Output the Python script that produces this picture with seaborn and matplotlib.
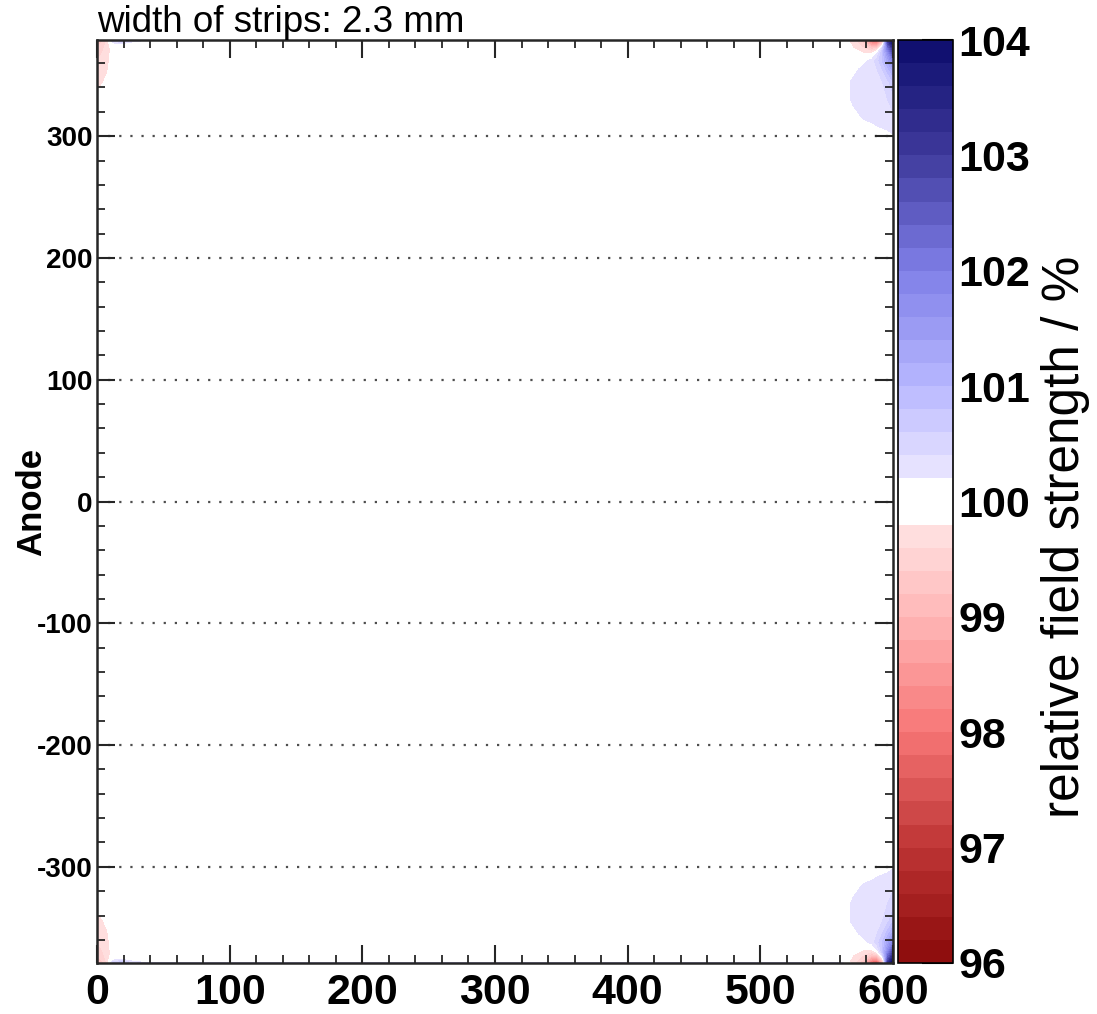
import numpy as np
import matplotlib
matplotlib.use("Agg")
import matplotlib.pyplot as plt
import seaborn as sns
from matplotlib.colors import LinearSegmentedColormap
from matplotlib.ticker import MultipleLocator

# grid (mm); only the upper half, the lower half is its mirror
x_mm = [0, 4, 8, 12, 18, 25, 35, 50, 540, 560, 570, 578, 584, 588, 592, 596, 600]
y_mm = [0, 280, 300, 315, 330, 345, 355, 362, 368, 372, 376, 378, 380]

# relative field strength in %, one row per y_mm value (left corner | right corner)
field_rows = [
    [100, 100, 100, 100, 100, 100, 100, 100,   100, 100, 100, 100, 100, 100, 100, 100, 100],
    [100, 100, 100, 100, 100, 100, 100, 100,   100, 100, 100, 100, 100, 100, 100, 100, 100],
    [100, 100, 100, 100, 100, 100, 100, 100,   100, 100, 100, 100, 100.05, 100.1, 100.12, 100.15, 100.18],
    [100, 100, 100, 100, 100, 100, 100, 100,   100, 100, 100.1, 100.22, 100.25, 100.28, 100.3, 100.3, 100.35],
    [99.85, 99.9, 100, 100, 100, 100, 100, 100,   100, 100, 100.25, 100.3, 100.3, 100.32, 100.35, 100.4, 100.5],
    [99.75, 99.78, 99.85, 100, 100, 100, 100, 100,   100, 100, 100.25, 100.3, 100.3, 100.35, 100.4, 100.55, 100.8],
    [99.7, 99.72, 99.78, 99.95, 100, 100, 100, 100,   100, 100, 100.1, 100.3, 100.35, 100.4, 100.6, 100.9, 101.3],
    [99.6, 99.65, 99.75, 99.9, 100, 100, 100, 100,   100, 100, 100, 100.1, 100.3, 100.5, 100.8, 101.3, 101.9],
    [99.5, 99.6, 99.72, 99.9, 100, 100, 100, 100,   100, 100, 100, 99.8, 99.8, 100.2, 100.8, 101.6, 102.6],
    [99.4, 99.55, 99.7, 99.9, 100, 100, 100, 100,   100, 100, 99.8, 99.6, 99.3, 99.5, 100.5, 102.1, 103.1],
    [99.3, 99.45, 99.7, 100.1, 100.2, 100.1, 100, 100,   100, 100, 99.75, 99.4, 98.5, 98.5, 99.5, 102.6, 103.8],
    [99.1, 99.35, 99.65, 100.4, 100.6, 100.3, 100, 100,   100, 100, 99.7, 99.2, 97.8, 97.5, 99.0, 103.0, 104.0],
    [98.8, 99.2, 99.6, 100.8, 101.0, 100.8, 101.5, 101.5,   101.5, 101.2, 99.6, 99.0, 97.5, 97.0, 98.5, 103.2, 104.0],
]

cbar_ticks = [96, 97, 98, 99, 100, 101, 102, 103, 104]
cmap_values = [96, 97, 98, 99, 99.7, 99.85, 100.15, 100.3, 101, 102, 103, 104]
cmap_colors = ["#8a0a0a", "#bd3434", "#f77676", "#ffb6b6", "#ffdede", "#ffffff",
               "#ffffff", "#e6e2ff", "#b8b8ff", "#7f7fe8", "#3f3a9c", "#0c0c6b"]

y_half = np.array(y_mm, dtype=float)
z_half = np.array(field_rows, dtype=float)
y_full = np.concatenate([-y_half[::-1][:-1], y_half])
z_full = np.vstack([z_half[::-1][:-1], z_half])

sns.set_style("ticks")
plt.rcParams["font.family"] = ["Liberation Sans", "DejaVu Sans"]
plt.rcParams["axes.unicode_minus"] = False
plt.rcParams["text.color"] = "black"
plt.rcParams["xtick.color"] = "black"
plt.rcParams["ytick.color"] = "black"
plt.rcParams["axes.labelcolor"] = "black"

pos = [(v - 96) / 8 for v in cmap_values]
cmap = LinearSegmentedColormap.from_list("field", list(zip(pos, cmap_colors)), N=2048)
levels = np.arange(96, 104.001, 0.2)

fig = plt.figure(figsize=(10.97, 10.14), dpi=100)
ax = fig.add_axes([97 / 1097, 51 / 1014, 796 / 1097, 923 / 1014])
cax = fig.add_axes([898 / 1097, 51 / 1014, 55 / 1097, 923 / 1014])

cf = ax.contourf(x_mm, y_full, z_full, levels=levels, cmap=cmap, vmin=96, vmax=104)

ax.set_xlim(0, 600)
ax.set_ylim(-379, 379)
ax.xaxis.set_major_locator(MultipleLocator(100))
ax.xaxis.set_minor_locator(MultipleLocator(20))
ax.yaxis.set_major_locator(MultipleLocator(100))
ax.yaxis.set_minor_locator(MultipleLocator(20))
ax.tick_params(which="both", direction="in", top=True, right=True, color="0.15")
ax.tick_params(which="major", length=13, width=1.5)
ax.tick_params(which="minor", length=6, width=1.3)
ax.tick_params(axis="x", labelsize=31, pad=7)
ax.tick_params(axis="y", labelsize=20, pad=3)
for lab in ax.get_xticklabels() + ax.get_yticklabels():
    lab.set_fontweight("bold")
for sp in ax.spines.values():
    sp.set_linewidth(1.8)
    sp.set_color("0.15")
ax.yaxis.grid(True, linestyle=(0, (1, 4)), color="0.3", linewidth=1.6)
ax.set_axisbelow(False)

ax.set_ylabel("Anode", fontsize=25, fontweight="bold")
ax.yaxis.set_label_coords(-0.062, 0.5)
ax.set_title("width of strips: 2.3 mm", loc="left", fontsize=26.5, pad=3)

cb = fig.colorbar(cf, cax=cax, ticks=cbar_ticks)
cb.outline.set_linewidth(1.2)
cb.outline.set_edgecolor("black")
cax.tick_params(direction="in", length=22, width=1.5, labelsize=31, pad=4,
                left=False, right=True)
cax.minorticks_off()
for lab in cax.get_yticklabels():
    lab.set_fontweight("bold")
cax.set_ylabel("relative field strength / %", fontsize=37)
cax.yaxis.set_label_coords(2.6, 0.4615)

fig.savefig("out.png", dpi=100)
